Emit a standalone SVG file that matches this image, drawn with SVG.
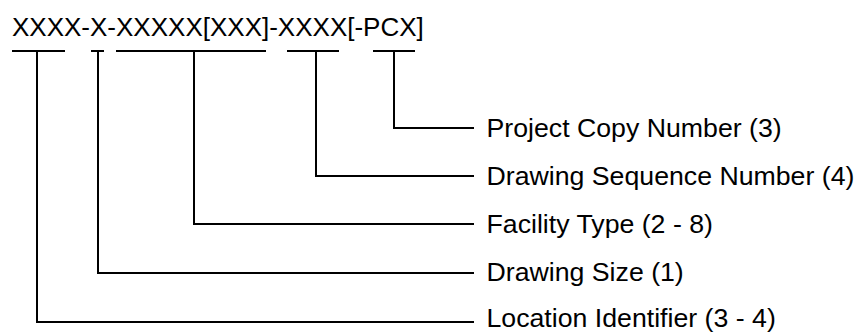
<svg xmlns="http://www.w3.org/2000/svg" width="859" height="333" viewBox="0 0 859 333">
<style>
text{font-family:"Liberation Sans",Arial,sans-serif;font-size:26px;fill:#000}
.lbl{font-size:26.7px}
.c{fill:none;stroke:#000;stroke-width:2}
</style>
<rect width="859" height="333" fill="#fff"/>
<g id="code"><text x="12" y="35.5">XXXX-X-XXXXX[XXX]-XXXX[-PCX]</text></g>
<g id="connectors">
<path class="c" d="M12 51H65M37 51V322H474"/>
<path class="c" d="M91 51H104M98 51V273H474"/>
<path class="c" d="M116 51H266M194 51V224H474"/>
<path class="c" d="M287 51H339M316 51V176H474"/>
<path class="c" d="M373 51H415M394 51V128H474"/>
</g>
<g id="pcn"><text class="lbl" x="486.5" y="136.5">Project Copy Number (3)</text></g>
<g id="dsn"><text class="lbl" x="486.5" y="184.5">Drawing Sequence Number (4)</text></g>
<g id="ft"><text class="lbl" x="486.5" y="232.5">Facility Type (2 - 8)</text></g>
<g id="ds"><text class="lbl" x="486.5" y="281">Drawing Size (1)</text></g>
<g id="li"><text class="lbl" x="486.5" y="326.5">Location Identifier (3 - 4)</text></g>
</svg>
